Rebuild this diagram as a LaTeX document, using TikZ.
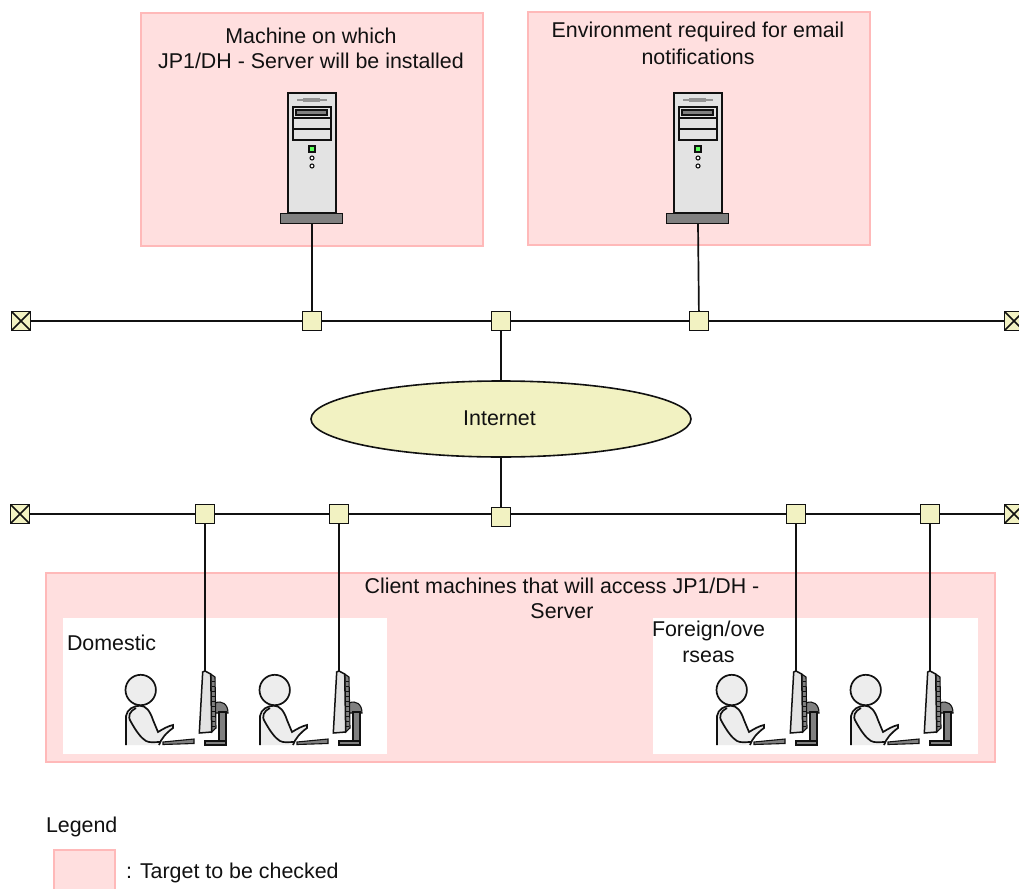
\documentclass[tikz,border=0pt]{standalone}
\usepackage{fontspec}
\setmainfont{Liberation Sans}
\usetikzlibrary{shapes.geometric}
\definecolor{pinkfill}{HTML}{FFDFDF}
\definecolor{pinkline}{HTML}{FFB9B9}
\definecolor{creamfill}{HTML}{F2F2C2}
\definecolor{towerfill}{HTML}{E3E3E3}
\definecolor{skinfill}{HTML}{EDEDED}
\definecolor{darkfill}{HTML}{808080}
\definecolor{ink}{HTML}{111111}
\tikzset{
  x=1pt,y=-1pt,
  zone/.style={draw=pinkline,fill=pinkfill,line width=1.5pt},
  inner/.style={fill=white},
  wire/.style={draw=ink,line width=1.7pt},
  joint/.style={draw=ink,fill=creamfill,line width=1.6pt,minimum size=19pt,inner sep=0pt,outer sep=0pt,shape=rectangle},
  endcap/.style={joint,line width=1.9pt,path picture={\draw[ink,line width=1.6pt](path picture bounding box.north west)--(path picture bounding box.south east)(path picture bounding box.north east)--(path picture bounding box.south west);}},
  cloud/.style={shape=ellipse,draw=ink,fill=creamfill,line width=1.6pt,minimum width=380pt,minimum height=76pt,inner sep=0pt,outer sep=0pt},
  label/.style={font=\fontsize{21.4}{25}\selectfont,text=ink,inner sep=0pt,outer sep=0pt},
  part/.style={draw=ink,line width=1.1pt},
  heavy/.style={draw=ink,line width=1.7pt},
  server/.pic={
    \draw[heavy,fill=towerfill] (28,13) rectangle (76,133);
    \draw[draw=gray!85,line width=1.3pt] (37,20) -- (67,20);
    \fill[gray!85] (43,18) rectangle (60,22);
    \draw[part,fill=towerfill] (33,27) rectangle (71,60);
    \draw[part] (33,38) -- (71,38) (33,49) -- (71,49);
    \draw[part,fill=darkfill] (36,30) rectangle (67,35);
    \draw[part,fill=green!65!white] (49,66) rectangle (55,72);
    \draw[part,fill=white] (52,78) circle (2);
    \draw[part,fill=white] (52,86) circle (2);
    \draw[heavy,fill=darkfill] (20.5,133.5) rectangle (82.5,143.5);
    \coordinate (-foot) at (52,143.5);
  },
  person/.pic={
    % monitor stand
    \draw[part,fill=darkfill] (105,703) .. controls (112,700) and (118,704) .. (118,713) -- (105,713) -- cycle;
    \draw[part,fill=darkfill] (109,712) rectangle (116,742);
    \draw[part,fill=darkfill] (95,741) rectangle (116,745);
    % monitor
    \draw[part,fill=darkfill] (100.7,674) -- (105,677) -- (106,728) -- (101.7,732) -- cycle;
    \foreach \ty in {681,686,...,726} {\draw[ink,line width=.9pt] (101.5,\ty) -- (105,\ty);}
    \draw[heavy,line width=1.5pt,fill=towerfill] (92.7,672) -- (95,671) -- (100.7,674) -- (101.7,732) -- (89.3,733) -- cycle;
    \coordinate (-top) at (95,671);
    % keyboard
    \draw[part,fill=darkfill] (53,742) -- (84,739) -- (84,743.5) -- (53,744.5) -- cycle;
    % body
    \fill[skinfill] (16,745) -- (16,716) .. controls (17,709) and (24,705.7) .. (30,705.7) .. controls (36,705.7) and (40,711) .. (43,720) -- (48,732) -- (63,725) -- (63,728) .. controls (56,733) and (51,739) .. (49,745) -- cycle;
    \draw[heavy] (16,745) -- (16,716) .. controls (17,709) and (24,705.7) .. (30,705.7) .. controls (36,705.7) and (40,711) .. (43,720) -- (48,732) .. controls (53,729) and (58,726) .. (63,725) -- (63,728) .. controls (56,733) and (51,739) .. (49,745);
    \draw[heavy] (26,708) .. controls (20,711) and (17,716) .. (21,722) .. controls (26,731) and (31,738) .. (36,741) .. controls (40,743) and (44,742) .. (50,742);
    % head
    \draw[heavy,fill=skinfill] (30.7,690) circle (15.2);
  }
}
\begin{document}
\begin{tikzpicture}
\clip (0,0) rectangle (1019,888);
\fill[white] (0,0) rectangle (1019,888);
% zones
\path[zone] (141,13) rectangle (483,246);
\path[zone] (528,12) rectangle (870,245);
\path[zone] (46,573) rectangle (995,762);
\path[inner] (63,618) rectangle (387,754);
\path[inner] (653,618) rectangle (978,754);
\path[zone] (54,850) rectangle (115,900);
% devices
\pic (srvA) at (260,80) {server};
\pic (srvB) at (646,80) {server};
\pic (pcA) at (110,0) {person};
\pic (pcB) at (244,0) {person};
\pic (pcC) at (701,0) {person};
\pic (pcD) at (835,0) {person};
% network nodes
\node[endcap] (endTL) at (21,321) {};
\node[endcap] (endTR) at (1014,321) {};
\node[endcap] (endBL) at (20,514) {};
\node[endcap] (endBR) at (1014,514) {};
\node[cloud] (net) at (501,419) {};
\node[joint] (tA) at (312,321) {};
\node[joint] (tB) at (501,321) {};
\node[joint] (tC) at (699,321) {};
\node[joint] (bA) at (205,514) {};
\node[joint] (bB) at (339,514) {};
\node[joint] (bC) at (501,517) {};
\node[joint] (bD) at (796,514) {};
\node[joint] (bE) at (930,514) {};
% connectors
\draw[wire] (endTL) -- (tA) (tA) -- (tB) (tB) -- (tC) (tC) -- (endTR);
\draw[wire] (endBL) -- (bA) (bA) -- (bB) (bB) -- (bC.west|-bB) (bC.east|-bD) -- (bD) (bD) -- (bE) (bE) -- (endBR);
\draw[wire] (srvA-foot) -- (tA);
\draw[wire] (srvB-foot) -- (tC);
\draw[wire] (tB) -- (net);
\draw[wire] (net) -- (bC);
\draw[wire] (bA) -- (pcA-top);
\draw[wire] (bB) -- (pcB-top);
\draw[wire] (bD) -- (pcC-top);
\draw[wire] (bE) -- (pcD-top);
% labels
\node[label] (tMachineA) at (311,36) {Machine on which};
\node[label] (tMachineB) at (311,61) {JP1/DH - Server will be installed};
\node[label] (tEnvA) at (698,32) {Environment required for email};
\node[label] (tEnvB) at (698,57) {notifications};
\node[label] (tNet) at (499.5,418.5) {Internet};
\node[label] (tClientA) at (562,586) {Client machines that will access JP1/DH -};
\node[label] (tClientB) at (562,611) {Server};
\node[label,anchor=west] (tDom) at (67,642.5) {Domestic};
\node[label] (tForA) at (708.5,631) {Foreign/ove};
\node[label] (tForB) at (708.5,656.5) {rseas};
\node[label,anchor=west] (tLeg) at (46,827) {Legend};
\node[label,anchor=west] (tColon) at (126,873) {:};
\node[label,anchor=west] (tTarget) at (140,873) {Target to be checked};
\end{tikzpicture}
\end{document}
